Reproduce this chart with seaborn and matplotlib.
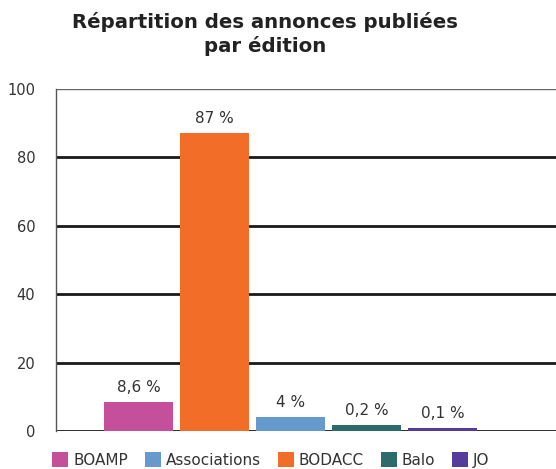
import matplotlib
matplotlib.use('Agg')
import matplotlib.pyplot as plt
from matplotlib.patches import Patch
import pandas as pd
import seaborn as sns

# donnees
editions = ['BOAMP', 'BODACC', 'Associations', 'Balo', 'JO']
hauteurs = [8.6, 87, 4.1, 1.8, 0.9]
etiquettes = ['8,6 %', '87 %', '4 %', '0,2 %', '0,1 %']
couleurs = ['#c4509c', '#f26e28', '#6699cc', '#2d6b6b', '#553c9a']
ordre_legende = ['BOAMP', 'Associations', 'BODACC', 'Balo', 'JO']

df = pd.DataFrame({'edition': editions, 'valeur': hauteurs})
palette = dict(zip(editions, couleurs))

sns.set_style('white')
plt.rcParams['font.family'] = ['DejaVu Sans']
plt.rcParams['font.sans-serif'] = ['DejaVu Sans']

fig = plt.figure(figsize=(5.56, 4.69), dpi=100)
ax = fig.add_axes([56 / 556, 38 / 469, 500 / 556, 342 / 469])

sns.barplot(data=df, x='edition', y='valeur', hue='edition', palette=palette,
            width=0.91, saturation=1, legend=False, linewidth=0,
            edgecolor='none', ax=ax)

for i, (h, lab) in enumerate(zip(hauteurs, etiquettes)):
    ax.annotate(lab, (i, h), xytext=(0, 10.5), textcoords='offset points',
                ha='center', va='center', fontsize=11, color='#333333',
                family='DejaVu Sans')

ax.set_ylim(0, 100)
ax.set_xlim(-1.09, 5.49)
ax.set_yticks([0, 20, 40, 60, 80, 100])
ax.set_xticks([])
ax.set_xlabel('')
ax.set_ylabel('')
ax.tick_params(axis='y', length=9, width=1, color='#555555', labelsize=10.5,
               labelcolor='#333333', pad=6)
for t in ax.get_yticklabels():
    t.set_family('DejaVu Sans')
ax.yaxis.grid(True, color='#1a1a1a', linewidth=2)
ax.set_axisbelow(True)
grids = ax.get_ygridlines()
grids[-1].set_color('#666666')
grids[-1].set_linewidth(1)
for s in ['top', 'right', 'bottom']:
    ax.spines[s].set_visible(False)
ax.spines['left'].set_color('#555555')
ax.spines['left'].set_linewidth(1)

fig.text(265 / 556, 1 - 34.5 / 469, 'Répartition des annonces publiées\npar édition',
         ha='center', va='center', fontsize=14.2, fontweight='bold',
         color='#222222', linespacing=1.25, family='DejaVu Sans')

handles = [Patch(facecolor=palette[e], edgecolor='none') for e in ordre_legende]
fig.legend(handles, ordre_legende, loc='center left',
           bbox_to_anchor=(52 / 556, 9 / 469), ncol=5, frameon=False,
           prop={'family': 'DejaVu Sans', 'size': 11},
           handlelength=1.05, handleheight=1.05,
           handletextpad=0.33, columnspacing=1.1, borderpad=0,
           borderaxespad=0, labelcolor='#333333')

fig.savefig('out.png', dpi=100)
